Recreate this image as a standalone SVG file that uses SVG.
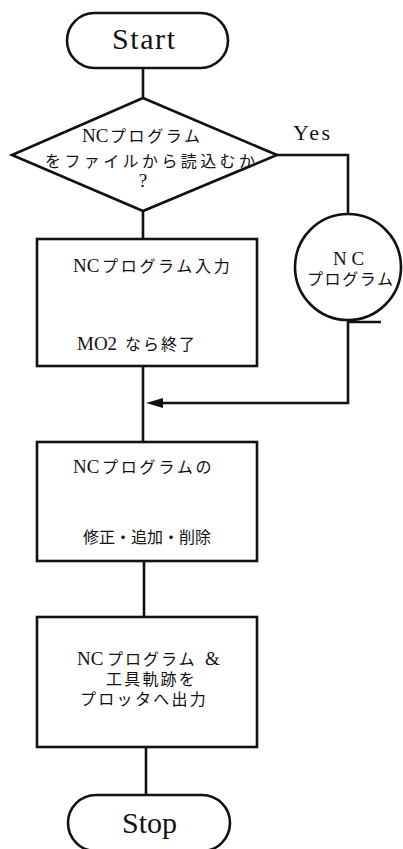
<svg xmlns="http://www.w3.org/2000/svg" width="403" height="849" viewBox="0 0 403 849">
<style>
.s{fill:none;stroke:#111;stroke-width:2.6}
.n{fill:#fff;stroke:#111;stroke-width:2.6}
text{font-family:"Liberation Serif","Noto Sans CJK JP",serif;fill:#111;font-size:16px}
.l{font-size:19px}
.y{font-size:22px}
.t{font-size:30px}
</style>
<rect width="403" height="849" fill="#fff"/>
<g id="connectors">
<path class="s" d="M143,68V98"/>
<path class="s" d="M143,211V239"/>
<path class="s" d="M277,155H348V214"/>
<path class="s" d="M348,321V403H160"/>
<polygon points="146,403 163,398 163,408" fill="#111"/>
<path class="s" d="M348,322H381"/>
<path class="s" d="M143,366V442"/>
<path class="s" d="M144,561V617"/>
<path class="s" d="M146,747V795"/>
</g>
<g id="start">
<rect class="n" x="67" y="13" width="161" height="55" rx="27.5"/>
<text class="t" x="112" y="49" textLength="63" lengthAdjust="spacing">Start</text>
</g>
<g id="decision">
<polygon class="n" points="143,98 277,155 143,211 12,155"/>
<text x="82" y="142"><tspan class="l">NC</tspan><tspan x="110" letter-spacing="2.6">プログラム</tspan></text>
<text x="45" y="167" letter-spacing="3.4">をファイルから読込むか</text>
<text class="l" x="143" y="187" text-anchor="middle">?</text>
</g>
<text id="yes" class="y" x="293" y="140" textLength="37" lengthAdjust="spacing">Yes</text>
<g id="ncfile">
<circle class="n" cx="348" cy="267" r="53"/>
<text class="l" x="333" y="265">N C</text>
<text x="307" y="285" letter-spacing="1.6">プログラム</text>
</g>
<g id="input">
<rect class="n" x="37" y="239" width="220" height="127"/>
<text x="73" y="272"><tspan class="l">NC</tspan><tspan x="102" letter-spacing="2.7">プログラム入力</tspan></text>
<text x="77" y="350"><tspan class="l">MO2</tspan><tspan x="125" letter-spacing="2">なら終了</tspan></text>
</g>
<g id="edit">
<rect class="n" x="37" y="442" width="220" height="119"/>
<text x="73" y="473"><tspan class="l">NC</tspan><tspan x="102" letter-spacing="2.8">プログラムの</tspan></text>
<text x="83" y="543">修正・追加・削除</text>
</g>
<g id="output">
<rect class="n" x="37" y="617" width="220" height="130"/>
<text x="77" y="665"><tspan class="l">NC</tspan><tspan x="107" letter-spacing="2">プログラム</tspan><tspan class="l" x="205">&amp;</tspan></text>
<text x="106" y="685" letter-spacing="2.2">工具軌跡を</text>
<text x="80" y="705" letter-spacing="2.3">プロッタへ出力</text>
</g>
<g id="stop">
<rect class="n" x="68" y="795" width="162" height="56" rx="28"/>
<text class="t" x="122" y="833" textLength="55" lengthAdjust="spacing">Stop</text>
</g>
</svg>
